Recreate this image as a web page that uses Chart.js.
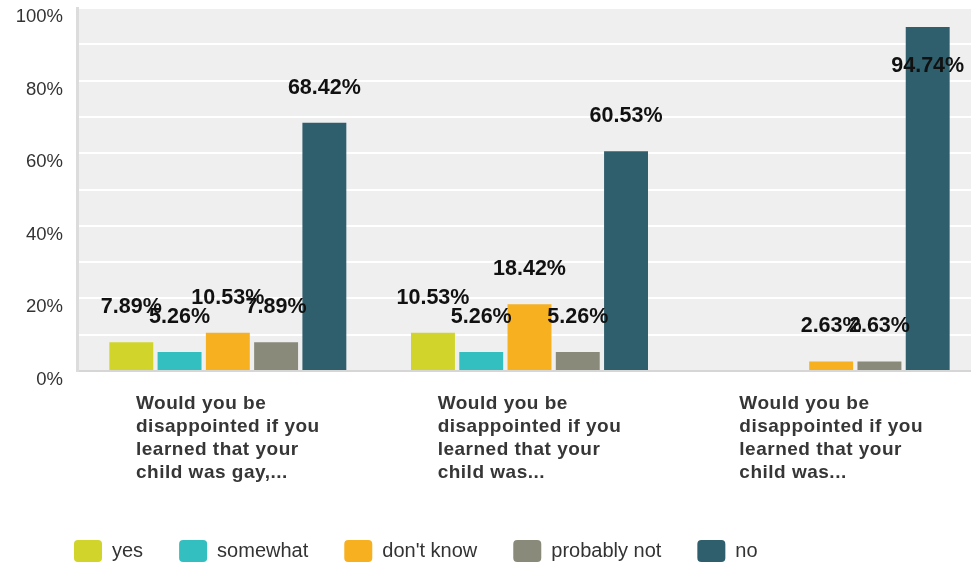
<!DOCTYPE html>
<html>
<head>
<meta charset="utf-8">
<script src="https://cdn.jsdelivr.net/npm/chart.js@4/dist/chart.umd.min.js"></script>
<style>
  html, body { margin: 0; padding: 0; background: #fff; overflow: hidden; }
  #wrap { position: relative; width: 982px; height: 565px; }
</style>
</head>
<body>
<div id="wrap"><canvas id="surveyChart"></canvas></div>
<script>
// survey answers, percent of respondents
const questions = [
    ["Would you be", "disappointed if you", "learned that your", "child was gay,..."],
    ["Would you be", "disappointed if you", "learned that your", "child was..."],
    ["Would you be", "disappointed if you", "learned that your", "child was..."]
];
const answers = ["yes", "somewhat", "don't know", "probably not", "no"];
const yesValues = [7.89, 10.53, 0];
const somewhatValues = [5.26, 5.26, 0];
const dontKnowValues = [10.53, 18.42, 2.63];
const probablyNotValues = [7.89, 5.26, 2.63];
const noValues = [68.42, 60.53, 94.74];
const yTicks = [0, 20, 40, 60, 80, 100];

const colors = ["#d1d42a", "#33bfc0", "#f7b01f", "#898a79", "#2f5f6c"];
const seriesValues = [yesValues, somewhatValues, dontKnowValues, probablyNotValues, noValues];

Chart.defaults.font.family = "'Liberation Sans', Arial, sans-serif";

// grey plot background
const plotBackground = {
    id: "plotBackground",
    beforeDraw(chart) {
        const { ctx, chartArea } = chart;
        ctx.save();
        ctx.fillStyle = "#efefef";
        ctx.fillRect(chartArea.left, chartArea.top, chartArea.right - chartArea.left, chartArea.bottom - chartArea.top);
        ctx.restore();
    }
};

// percent labels above each bar
const valueLabels = {
    id: "valueLabels",
    afterDatasetsDraw(chart) {
        const ctx = chart.ctx;
        ctx.save();
        ctx.font = "bold 21.5px 'Liberation Sans', Arial, sans-serif";
        ctx.fillStyle = "#111";
        ctx.textAlign = "center";
        ctx.textBaseline = "middle";
        chart.data.datasets.forEach((ds, i) => {
            const meta = chart.getDatasetMeta(i);
            meta.data.forEach((bar, j) => {
                const v = ds.data[j];
                if (!v) return;
                ctx.fillText(v.toFixed(2) + "%", bar.x, Math.max(bar.y - 35, 66));
            });
        });
        ctx.restore();
    }
};

// category labels: block centred under the group, lines left aligned
const categoryLabels = {
    id: "categoryLabels",
    afterDraw(chart) {
        const ctx = chart.ctx;
        const xScale = chart.scales.x;
        ctx.save();
        ctx.font = "bold 19px 'Liberation Sans', Arial, sans-serif";
        ctx.letterSpacing = "0.5px";
        ctx.fillStyle = "#363636";
        ctx.textAlign = "left";
        ctx.textBaseline = "alphabetic";
        questions.forEach((lines, i) => {
            const cx = xScale.getPixelForValue(i);
            const w = Math.max(...lines.map(l => ctx.measureText(l).width));
            lines.forEach((line, k) => {
                ctx.fillText(line, cx - w / 2, chart.chartArea.bottom + 38 + k * 23);
            });
        });
        ctx.restore();
    }
};

const legendShift = {
    id: "legendShift",
    afterLayout(chart) {
        chart.legend.left = 38;
        chart.legend.top = 504;
        chart.legend.bottom = chart.height;
    }
};

new Chart(document.getElementById("surveyChart"), {
    type: "bar",
    data: {
        labels: questions.map(q => q.join(" ")),
        datasets: answers.map((name, i) => ({
            label: name,
            data: seriesValues[i],
            backgroundColor: colors[i],
            borderColor: colors[i],
            borderWidth: 0,
            categoryPercentage: 0.8,
            barPercentage: 0.91
        }))
    },
    options: {
        responsive: true,
        maintainAspectRatio: false,
        animation: false,
        layout: { padding: { top: 8, left: 14, right: 0, bottom: 6 } },
        plugins: {
            tooltip: { enabled: false },
            legend: {
                position: "bottom",
                align: "start",
                labels: {
                    boxWidth: 28,
                    boxHeight: 22,
                    padding: 36,
                    useBorderRadius: true,
                    borderRadius: 4,
                    color: "#333",
                    font: { size: 20 }
                }
            }
        },
        scales: {
            x: {
                grid: { display: false },
                border: { display: true, color: "#d6d6d6", width: 2 },
                ticks: { display: false },
                afterFit(scale) { scale.height = 120; }
            },
            y: {
                min: 0,
                max: 100,
                grid: {
                    drawTicks: false,
                    lineWidth: 2,
                    color: c => (c.tick && c.tick.value === 0) ? "rgba(0,0,0,0)" : "#ffffff"
                },
                border: { display: true, color: "#dcdcdc", width: 3 },
                ticks: {
                    stepSize: 10,
                    padding: 14,
                    labelOffset: 9,
                    color: "#333",
                    font: { size: 18.5 },
                    callback: v => yTicks.includes(v) ? v + "%" : ""
                },
                afterFit(scale) {
                    scale.width = 63;
                    scale.paddingTop = 0;
                    scale.paddingBottom = 0;
                }
            }
        }
    },
    plugins: [plotBackground, valueLabels, categoryLabels, legendShift]
});
</script>
</body>
</html>
